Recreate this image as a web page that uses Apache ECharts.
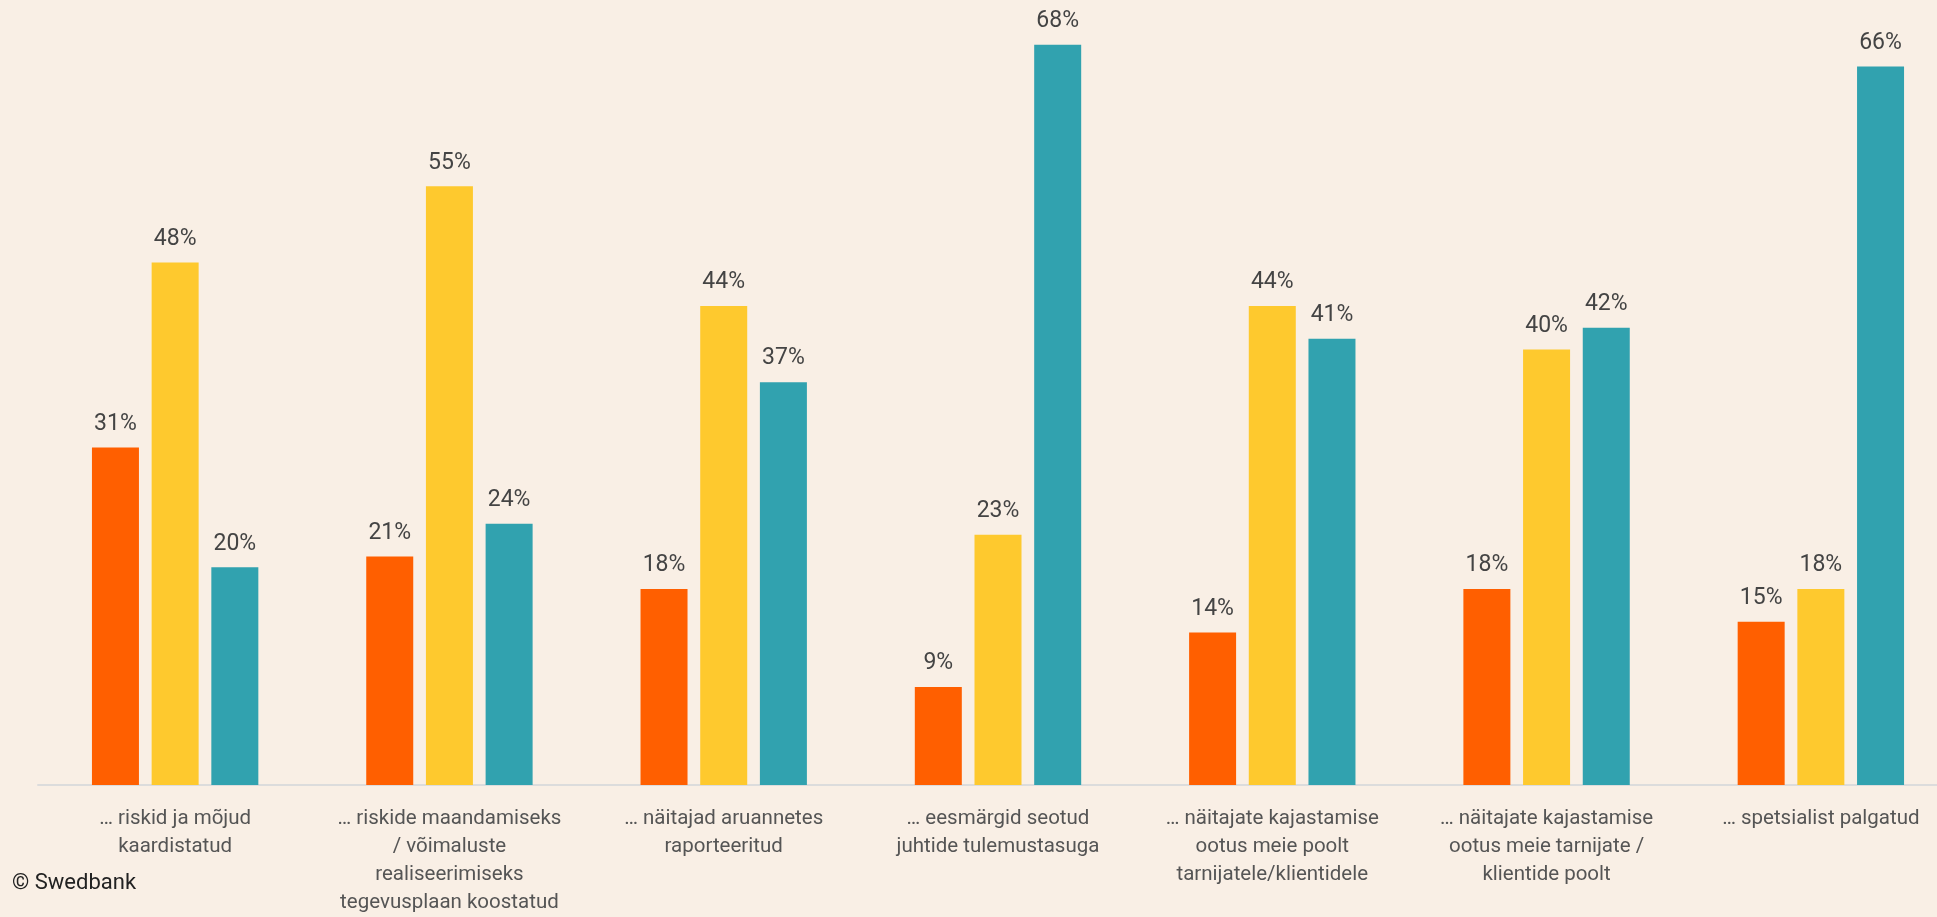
<!DOCTYPE html>
<html>
<head>
<meta charset="utf-8">
<script src="https://cdn.jsdelivr.net/npm/echarts@6/dist/echarts.min.js"></script>
<style>
html,body{margin:0;padding:0;background:#F9EFE5;overflow:hidden;width:1937px;height:917px;}
#c{width:1958px;height:917px;}
</style>
</head>
<body>
<div id="c"></div>
<script>
const categories = [
  "… riskid ja mõjud\nkaardistatud",
  "… riskide maandamiseks\n/ võimaluste\nrealiseerimiseks\ntegevusplaan koostatud",
  "… näitajad aruannetes\nraporteeritud",
  "… eesmärgid seotud\njuhtide tulemustasuga",
  "… näitajate kajastamise\nootus meie poolt\ntarnijatele/klientidele",
  "… näitajate kajastamise\nootus meie tarnijate /\nklientide poolt",
  "… spetsialist palgatud"
];
const seriesOrange = [31, 21, 18, 9, 14, 18, 15];
const seriesYellow = [48, 55, 44, 23, 44, 40, 18];
const seriesTeal = [20, 24, 37, 68, 41, 42, 66];

const chart = echarts.init(document.getElementById('c'));
const lbl = {
  show: true, position: 'top', distance: 12,
  formatter: p => p.value + '%',
  fontFamily: 'Roboto', fontSize: 23, color: '#444'
};
function bar(data, color){
  return {
    type: 'bar', data: data, barWidth: 47, barGap: '27%',
    itemStyle: {color: color},
    label: lbl,
    emphasis: {disabled: true}
  };
}
chart.setOption({
  backgroundColor: '#F9EFE5',
  animation: false,
  grid: {left: 38, right: 0, top: 23, bottom: 130, containLabel: false},
  xAxis: {
    type: 'category', data: categories,
    axisLine: {lineStyle: {color: '#DCDCDC', width: 2}},
    axisTick: {show: false},
    axisLabel: {interval: 0, margin: 20, fontFamily: 'Roboto', fontSize: 20.5, lineHeight: 28, color: '#555'}
  },
  yAxis: {
    type: 'value', min: 0, max: 70,
    show: false, splitLine: {show: false}
  },
  graphic: [{
    type: 'text', left: 12, top: 872,
    style: {text: '© Swedbank', fontFamily: 'Roboto', fontSize: 22, fill: '#222'}
  }],
  series: [bar(seriesOrange, '#FF5F00'), bar(seriesYellow, '#FEC92E'), bar(seriesTeal, '#31A2AF')]
});
</script>
</body>
</html>
